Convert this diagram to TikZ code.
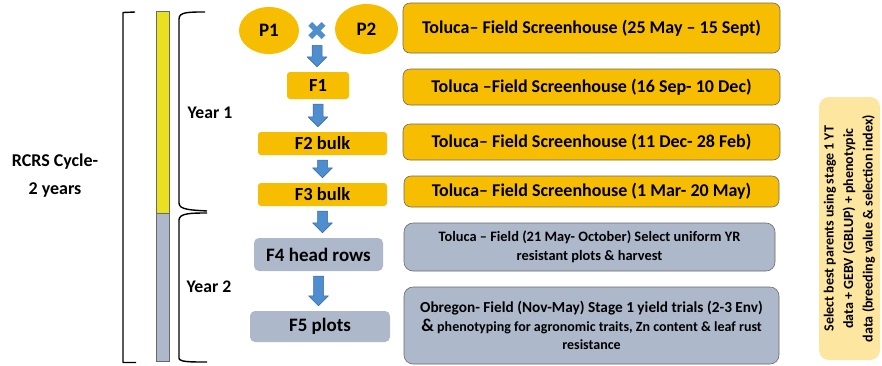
\documentclass[tikz,border=0pt]{standalone}
\usepackage{fontspec}
\setmainfont{Carlito}
\newfontfamily\dejavu{DejaVu Sans}
\usetikzlibrary{calc,shapes.geometric}

\definecolor{oro}{RGB}{247,189,0}
\definecolor{gris}{RGB}{173,185,202}
\definecolor{azul}{RGB}{79,142,206}
\definecolor{azulborde}{RGB}{55,105,160}
\definecolor{amarillo}{RGB}{232,224,32}
\definecolor{crema}{RGB}{253,230,160}
\definecolor{borde}{RGB}{105,105,105}

% flecha de bloque entre dos nodos (de #1.south a #2.north)
\newcommand{\flecha}[2]{%
  \path[flow] let \p1=(#1.south), \p2=(#2.north) in
    (\x1-5pt,\y1-5pt) -- (\x1+5pt,\y1-5pt) -- (\x1+5pt,\y2+15pt)
    -- (\x1+10pt,\y2+15pt) -- (\x1,\y2+5pt) -- (\x1-10pt,\y2+15pt)
    -- (\x1-5pt,\y2+15pt) -- cycle;}

\begin{document}
\begin{tikzpicture}[
        x=1pt, y=-1pt,
        padre/.style={ellipse, fill=oro, inner sep=0pt,
                      font=\fontsize{19}{21}\selectfont\bfseries},
        gen/.style={fill=oro, rounded corners=3pt, inner sep=0pt,
                    font=\fontsize{18.5}{20}\selectfont\bfseries},
        genb/.style={fill=gris, rounded corners=5pt, inner sep=0pt,
                     font=\fontsize{19}{21}\selectfont\bfseries},
        sitio/.style={draw=borde, line width=0.6pt, fill=oro, rounded corners=7pt,
                      inner sep=0pt, font=\fontsize{18}{20}\selectfont\bfseries},
        campo/.style={draw=borde, line width=0.6pt, fill=gris, rounded corners=9pt,
                      inner sep=0pt, align=center,
                      font=\fontsize{14.4}{18.5}\selectfont\bfseries},
        yearlbl/.style={font=\fontsize{17.7}{20}\selectfont\bfseries},
        flow/.style={fill=azul, draw=azulborde, line width=0.5pt, line join=round},
        corchete/.style={line width=1.4pt, line join=round}]

    \useasboundingbox (0,0) rectangle (882,365);

    % --- Ciclo y barra de años
    \node[align=center, font=\fontsize{18}{28}\selectfont\bfseries]
        (ciclo) at (55,175.5) {RCRS Cycle-\\2 years};
    \draw[corchete] (135,12) -- (123,12.5) -- (123,362.5) -- (136,362.5);
    \filldraw[fill=amarillo, draw=borde, line width=0.6pt] (156,11.5) rectangle (169.5,213);
    \filldraw[fill=gris, draw=borde, line width=0.6pt] (156,213) rectangle (169.5,361.5);

    % --- Corchetes de año
    \draw[corchete] (205,12) .. controls (188,12) and (179,12) .. (179,19)
                    -- (179,203) .. controls (179,210) and (192,210) .. (207,211);
    \draw[corchete] (207,213) .. controls (192,213) and (179,213) .. (179,220)
                    -- (179,358) .. controls (179,362) and (190,362) .. (207,362);
    \node[yearlbl] (y1) at (210,113) {Year 1};
    \node[yearlbl] (y2) at (209,287) {Year 2};

    % --- Generaciones
    \node[padre, minimum width=60pt, minimum height=47pt] (p1) at (269,30.5) {P1};
    \node[padre, minimum width=63pt, minimum height=50pt] (p2) at (366.5,29) {P2};
    \node[inner sep=0pt, font=\dejavu\fontsize{26}{26}\selectfont, text=azul]
        (cruza) at (317,31) {✖};
    \node[gen, minimum width=62pt, minimum height=27pt] (f1) at (318,85.5) {F1};
    \node[gen, minimum width=129pt, minimum height=23pt] (f2) at (322.5,143.5) {F2 bulk};
    \node[gen, minimum width=129pt, minimum height=23pt] (f3) at (322.5,194.5) {F3 bulk};
    \node[genb, minimum width=129pt, minimum height=33pt] (f4) at (318.5,254.5) {F4 head rows};
    \node[genb, minimum width=140pt, minimum height=31pt] (f5) at (320,326.5) {F5 plots};

    \flecha{cruza}{f1}
    \flecha{f1}{f2}
    \flecha{f2}{f3}
    \flecha{f3}{f4}
    \flecha{f4}{f5}

    % --- Sitios y fechas
    \node[sitio, minimum width=377pt, minimum height=50pt] (s1) at (591.5,28)
        {Toluca– Field Screenhouse (25 May – 15 Sept)};
    \node[sitio, minimum width=377pt, minimum height=36pt] (s2) at (591.5,87)
        {Toluca –Field Screenhouse (16 Sep- 10 Dec)};
    \node[sitio, minimum width=377pt, minimum height=36pt] (s3) at (591.5,142)
        {Toluca– Field Screenhouse (11 Dec- 28 Feb)};
    \node[sitio, minimum width=375pt, minimum height=31pt] (s4) at (591.5,191.5)
        {Toluca– Field Screenhouse (1 Mar- 20 May)};
    \node[campo, minimum width=371pt, minimum height=48pt] (s5) at (589.5,247)
        {Toluca – Field (21 May- October) Select uniform YR\\resistant plots \& harvest};
    \node[campo, minimum width=375pt, minimum height=77pt] (s6) at (591.5,325.5)
        {{\fontsize{15.3}{18}\selectfont Obregon- Field (Nov-May) Stage 1 yield trials (2-3 Env)}\\
         {\fontsize{18}{18}\selectfont\&} {\fontsize{14}{18}\selectfont phenotyping for agronomic traits, Zn content \& leaf rust}\\
         {\fontsize{14}{18}\selectfont resistance}};

    % --- Selección de padres
    \node[fill=crema, rounded corners=10pt, rotate=90, inner sep=0pt, align=center,
          minimum width=263pt, minimum height=61pt,
          font=\fontsize{14}{19.5}\selectfont\bfseries] (sel) at (849.5,228.5)
        {Select best parents using stage 1 YT\\data + GEBV (GBLUP) + phenotypic\\
         data (breeding value \& selection index)};

\end{tikzpicture}
\end{document}
